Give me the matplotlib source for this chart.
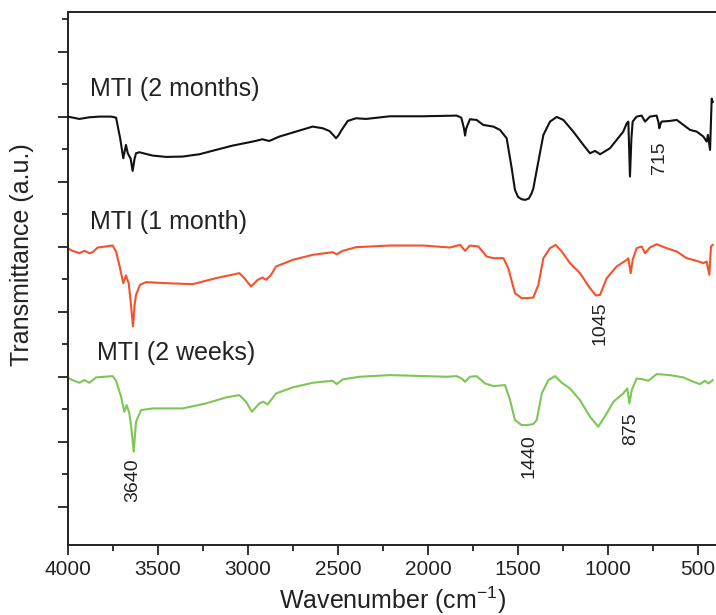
import matplotlib
matplotlib.use("Agg")
import matplotlib.pyplot as plt
from matplotlib.ticker import MultipleLocator, NullFormatter, FixedLocator

plt.rcParams['font.family'] = ['Liberation Sans', 'DejaVu Sans']
plt.rcParams['mathtext.fontset'] = 'custom'
plt.rcParams['mathtext.rm'] = 'Liberation Sans'
plt.rcParams['mathtext.it'] = 'Liberation Sans:italic'

# ---------------- data ----------------
black_wn = [4011, 3937, 3880, 3826, 3760, 3733, 3710, 3693, 3678, 3668, 3652, 3641, 3630, 3622,
            3604, 3530, 3456, 3363, 3270, 3178, 3085, 2974, 2919, 2900, 2881, 2826, 2715, 2641,
            2585, 2548, 2525, 2511, 2497, 2483, 2446, 2400, 2344, 2211, 2026, 1841, 1815, 1800,
            1794, 1788, 1767, 1730, 1693, 1637, 1600, 1563, 1535, 1517, 1500, 1480, 1460, 1440,
            1425, 1415, 1387, 1359, 1322, 1285, 1248, 1193, 1137, 1100, 1072, 1044, 989, 915,
            896, 887, 878, 870, 863, 841, 813, 794, 767, 730, 720, 715, 708, 702, 656, 618, 581,
            544, 507, 470, 452, 445, 433, 424, 418]
black_t = [12.87, 12.79, 12.84, 12.86, 12.86, 12.83, 12.2, 11.61, 12.01, 11.76, 11.6, 11.23, 11.6, 11.76,
           11.79, 11.69, 11.65, 11.66, 11.73, 11.86, 11.99, 12.11, 12.18, 12.15, 12.13, 12.26, 12.44, 12.56,
           12.51, 12.43, 12.3, 12.21, 12.3, 12.43, 12.73, 12.81, 12.79, 12.87, 12.87, 12.89, 12.83, 12.5,
           12.29, 12.5, 12.78, 12.76, 12.61, 12.56, 12.46, 12.21, 11.31, 10.66, 10.45, 10.38, 10.36, 10.40,
           10.55, 10.7, 11.51, 12.31, 12.71, 12.85, 12.76, 12.41, 12.01, 11.76, 11.83, 11.73, 11.91, 12.41,
           12.66, 12.71, 11.06, 12.2, 12.71, 12.86, 12.89, 12.71, 12.86, 12.89, 12.7, 12.51, 12.65, 12.71,
           12.73, 12.76, 12.61, 12.46, 12.41, 12.26, 12.11, 12.31, 11.86, 13.4, 13.3]

red_wn = [4011, 3974, 3937, 3909, 3881, 3863, 3835, 3752, 3733, 3715, 3693, 3678, 3663, 3652, 3639,
          3630, 3622, 3600, 3567, 3456, 3307, 3178, 3048, 3020, 2983, 2946, 2919, 2900, 2872, 2844,
          2752, 2641, 2530, 2507, 2474, 2400, 2211, 2026, 1878, 1822, 1794, 1767, 1720, 1674, 1637,
          1581, 1554, 1517, 1480, 1450, 1415, 1387, 1359, 1322, 1291, 1257, 1211, 1156, 1100, 1067,
          1044, 1007, 952, 896, 887, 874, 863, 841, 813, 794, 767, 730, 674, 618, 563, 507, 470, 452,
          437, 428, 418]
red_t = [8.93, 8.83, 8.76, 8.83, 8.76, 8.79, 8.93, 8.99, 8.81, 8.41, 7.86, 8.09, 7.86, 7.31, 6.56,
         7.2, 7.51, 7.81, 7.89, 7.86, 7.83, 8.01, 8.16, 8.01, 7.76, 7.96, 8.03, 7.96, 8.11, 8.36,
         8.56, 8.71, 8.79, 8.73, 8.83, 8.94, 8.99, 8.99, 8.93, 9.01, 8.83, 8.99, 8.96, 8.66, 8.61,
         8.61, 8.31, 7.56, 7.41, 7.41, 7.43, 7.81, 8.61, 8.91, 9.01, 8.81, 8.46, 8.16, 7.71, 7.49,
         7.51, 8.01, 8.36, 8.56, 8.61, 8.16, 8.56, 8.91, 8.96, 8.76, 8.93, 9.03, 8.91, 8.81, 8.61,
         8.53, 8.46, 8.51, 8.11, 8.96, 9.01]

green_wn = [4011, 3974, 3937, 3909, 3881, 3844, 3752, 3733, 3705, 3687, 3674, 3659, 3646, 3635, 3622,
            3594, 3530, 3363, 3233, 3122, 3048, 3011, 2978, 2937, 2915, 2891, 2844, 2752, 2641, 2530,
            2507, 2474, 2381, 2211, 1896, 1841, 1813, 1794, 1767, 1730, 1683, 1637, 1572, 1544, 1517,
            1480, 1450, 1415, 1396, 1368, 1331, 1294, 1257, 1211, 1156, 1100, 1054, 1007, 970, 915,
            893, 881, 868, 841, 804, 776, 730, 656, 581, 526, 489, 461, 442, 418]
green_t = [5.05, 4.95, 4.87, 4.95, 4.87, 5.03, 5.07, 4.93, 4.45, 4.00, 4.20, 3.95, 3.40, 2.80, 3.70,
           4.05, 4.10, 4.10, 4.25, 4.43, 4.50, 4.30, 4.00, 4.25, 4.30, 4.22, 4.55, 4.73, 4.87, 4.93,
           4.83, 4.97, 5.05, 5.10, 5.05, 5.07, 5.0, 4.90, 5.05, 5.07, 4.85, 4.77, 4.80, 4.35, 3.75,
           3.60, 3.60, 3.63, 3.75, 4.55, 4.95, 5.07, 4.87, 4.70, 4.35, 3.85, 3.55, 3.95, 4.30, 4.55,
           4.70, 4.25, 4.65, 5.0, 4.97, 4.93, 5.13, 5.10, 5.03, 4.90, 4.83, 4.93, 4.85, 4.95]

series_labels = ["MTI (2 months)", "MTI (1 month)", "MTI (2 weeks)"]
label_pos_wn = [3878, 3878, 3839]
label_pos_t = [13.69, 9.70, 5.77]

peak_labels = ["715", "1045", "3640", "1440", "875"]
peak_wn = [715, 1045, 3640, 1440, 875]
peak_t = [11.62, 6.67, 1.95, 2.66, 3.48]

x_ticks = [4000, 3500, 3000, 2500, 2000, 1500, 1000, 500]

# ---------------- figure ----------------
W, H = 716, 615
fig = plt.figure(figsize=(W / 100, H / 100), dpi=100)
ax = fig.add_axes([68 / W, (H - 545) / H, (W - 68) / W, (545 - 12) / H])

lw = 1.5
ax.plot(black_wn, black_t, color='#111111', lw=lw)
ax.plot(red_wn, red_t, color='#F5522B', lw=lw)
ax.plot(green_wn, green_t, color='#7CC653', lw=lw)

for s, xw, yt in zip(series_labels, label_pos_wn, label_pos_t):
    ax.text(xw, yt, s, fontsize=18, ha='left', va='center', color='#222222')

for s, xw, yt in zip(peak_labels, peak_wn, peak_t):
    ax.text(xw, yt, s, fontsize=14, ha='center', va='center', rotation=90, color='#222222')

ax.set_xlim(4000, 400)
ax.set_ylim(0, 16)
ax.set_xticks(x_ticks)
ax.set_xticklabels([str(v) for v in x_ticks])
ax.xaxis.set_minor_locator(MultipleLocator(250))
# y ticks (no labels): evenly spaced, alternating long/short
y_step = 32.5 / 33.3
y0 = 38 / 33.3
ax.yaxis.set_major_locator(FixedLocator([y0 + 2 * y_step * i for i in range(8)]))
ax.yaxis.set_minor_locator(FixedLocator([y0 + y_step * (2 * i + 1) for i in range(8)]))
ax.yaxis.set_major_formatter(NullFormatter())
ax.tick_params(axis='both', which='major', direction='out', length=7, width=1.3,
               labelsize=15, colors='#222222')
ax.tick_params(axis='both', which='minor', direction='out', length=4, width=1.3, colors='#222222')
ax.tick_params(axis='x', pad=4)
for sp in ['left', 'bottom', 'top']:
    ax.spines[sp].set_linewidth(1.4)
    ax.spines[sp].set_color('#222222')
ax.spines['right'].set_visible(False)

fig.text(393 / W, 1 - 600 / H, 'Wavenumber (cm$^{-1}$)', fontsize=18, ha='center', va='center',
         color='#222222')
fig.text(22 / W, 1 - 255 / H, 'Transmittance (a.u.)', fontsize=18, ha='center', va='center',
         rotation=90, color='#222222')

fig.savefig('out.png', dpi=100)
